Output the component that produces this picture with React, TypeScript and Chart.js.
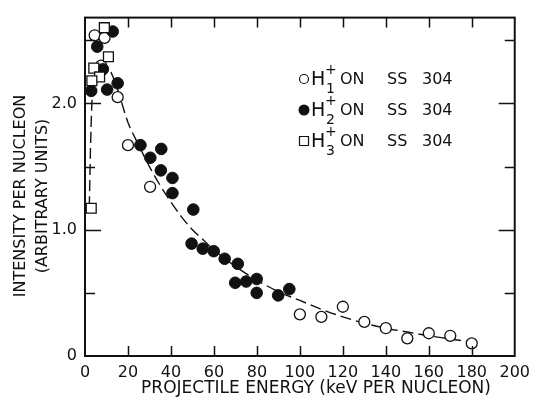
import React, { useEffect, useRef } from "react";
import { Chart, registerables } from "chart.js";

Chart.register(...registerables);

// H1+ on SS 304 (open circles)
const h1X = [4.5, 9.1, 7.5, 15.2, 20, 30.3, 100, 110, 120, 130, 140, 150, 160, 170, 180];
const h1Y = [2.54, 2.52, 2.30, 2.05, 1.67, 1.34, 0.33, 0.31, 0.39, 0.27, 0.22, 0.14, 0.18, 0.16, 0.10];

// H2+ on SS 304 (filled circles)
const h2X = [12.9, 5.7, 8.3, 15.2, 10.3, 2.9, 25.8, 30.4, 35.5, 35.3, 40.7, 40.7, 50.4, 49.6, 54.8, 59.9, 65, 71.1, 69.9, 75, 79.9, 79.9, 89.9, 95.1];
const h2Y = [2.57, 2.45, 2.27, 2.16, 2.11, 2.10, 1.67, 1.57, 1.64, 1.47, 1.41, 1.29, 1.16, 0.89, 0.85, 0.83, 0.77, 0.73, 0.58, 0.59, 0.61, 0.50, 0.48, 0.53];

// H3+ on SS 304 (open squares)
const h3X = [9.0, 10.9, 4.1, 6.8, 3.2, 2.9];
const h3Y = [2.60, 2.37, 2.28, 2.21, 2.18, 1.17];

// dashed fitted curve
const curveX = [2.0, 2.5, 3.2, 4.5, 6, 8, 10, 12, 15, 20, 25, 30, 35, 40, 45, 50, 55, 60, 70, 80, 90, 100, 110, 120, 130, 140, 150, 160, 170, 180];
const curveY = [1.18, 1.6, 2.0, 2.2, 2.29, 2.32, 2.3, 2.25, 2.12, 1.85, 1.67, 1.5, 1.35, 1.22, 1.10, 1.0, 0.92, 0.84, 0.71, 0.60, 0.51, 0.44, 0.37, 0.31, 0.26, 0.22, 0.19, 0.16, 0.135, 0.11];

const xTicks = [0, 20, 40, 60, 80, 100, 120, 140, 160, 180, 200];
const yLabelTicks = [0, 1, 2];
const yMinorTicks = [0.5, 1.5, 2.5];
const legendLabels = ["1", "2", "3"];
const legendText = ["ON", "SS", "304"];

const FONT = "'DejaVu Sans', sans-serif";
const INK = "#111";

const pts = (xs: number[], ys: number[]) => xs.map((x, i) => ({ x, y: ys[i] }));

const decorPlugin = {
  id: "decor",
  afterDraw(chart: any) {
    const ctx = chart.ctx as CanvasRenderingContext2D;
    const { left, right, top, bottom } = chart.chartArea;
    const xs = chart.scales.x;
    const ys = chart.scales.y;
    ctx.save();
    ctx.strokeStyle = INK;
    ctx.lineWidth = 2;
    ctx.strokeRect(left, top, right - left, bottom - top);
    ctx.lineWidth = 1.5;
    ctx.beginPath();
    xTicks.slice(1, -1).forEach((v) => {
      const px = Math.round(xs.getPixelForValue(v)) + 0.5;
      ctx.moveTo(px, bottom);
      ctx.lineTo(px, bottom - 10);
      ctx.moveTo(px, top);
      ctx.lineTo(px, top + 10);
    });
    yLabelTicks.slice(1).forEach((v) => {
      const py = Math.round(ys.getPixelForValue(v)) + 0.5;
      ctx.moveTo(left, py);
      ctx.lineTo(left + 16, py);
      ctx.moveTo(right, py);
      ctx.lineTo(right - 16, py);
    });
    yMinorTicks.forEach((v) => {
      const py = Math.round(ys.getPixelForValue(v)) + 0.5;
      ctx.moveTo(left, py);
      ctx.lineTo(left + 10, py);
      ctx.moveTo(right, py);
      ctx.lineTo(right - 10, py);
    });
    ctx.stroke();

    // axis titles
    ctx.fillStyle = INK;
    ctx.textAlign = "center";
    ctx.textBaseline = "middle";
    ctx.font = `17px ${FONT}`;
    ctx.fillText("PROJECTILE ENERGY (keV PER NUCLEON)", 316, 389);
    ctx.font = `16px ${FONT}`;
    ctx.save();
    ctx.translate(21, 196);
    ctx.rotate(-Math.PI / 2);
    ctx.fillText("INTENSITY PER NUCLEON", 0, 0);
    ctx.fillText("(ARBITRARY UNITS)", 0, 22);
    ctx.restore();

    // legend
    const rows = [79, 110, 141];
    rows.forEach((ry, i) => {
      ctx.lineWidth = 1.2;
      ctx.strokeStyle = INK;
      ctx.fillStyle = INK;
      ctx.beginPath();
      if (i === 0) {
        ctx.arc(304, ry, 4.5, 0, Math.PI * 2);
        ctx.fillStyle = "#fff";
        ctx.fill();
        ctx.stroke();
      } else if (i === 1) {
        ctx.arc(304, ry, 5.5, 0, Math.PI * 2);
        ctx.fill();
      } else {
        ctx.rect(299.5, ry - 4.5, 9, 9);
        ctx.fillStyle = "#fff";
        ctx.fill();
        ctx.stroke();
      }
      ctx.fillStyle = INK;
      ctx.textAlign = "left";
      ctx.textBaseline = "middle";
      ctx.font = `19px ${FONT}`;
      ctx.fillText("H", 311, ry + 1);
      ctx.font = `14px ${FONT}`;
      ctx.fillText("+", 325, ry - 9);
      ctx.fillText(legendLabels[i], 326, ry + 10);
      ctx.font = `16px ${FONT}`;
      ctx.fillText(legendText[0], 340, ry + 1);
      ctx.fillText(legendText[1], 387, ry + 1);
      ctx.fillText(legendText[2], 422, ry + 1);
    });
    ctx.restore();
  },
};

export default function App() {
  const ref = useRef<HTMLCanvasElement | null>(null);
  useEffect(() => {
    document.body.style.margin = "0";
    const canvas = ref.current!;
    const chart = new Chart(canvas, {
      type: "scatter",
      data: {
        datasets: [
          {
            label: "fit",
            type: "line",
            data: pts(curveX, curveY),
            borderColor: INK,
            borderWidth: 1.4,
            borderDash: [11, 5],
            pointRadius: 0,
            fill: false,
            cubicInterpolationMode: "monotone",
            order: 10,
          } as any,
          {
            label: "H1+ ON SS 304",
            data: pts(h1X, h1Y),
            pointStyle: "circle",
            pointRadius: 5.5,
            backgroundColor: "#fff",
            borderColor: INK,
            borderWidth: 1.3,
            order: 3,
          },
          {
            label: "H2+ ON SS 304",
            data: pts(h2X, h2Y),
            pointStyle: "circle",
            pointRadius: 5.8,
            backgroundColor: INK,
            borderColor: INK,
            borderWidth: 1,
            order: 2,
          },
          {
            label: "H3+ ON SS 304",
            data: pts(h3X, h3Y),
            pointStyle: "rect",
            pointRadius: 7,
            backgroundColor: "#fff",
            borderColor: INK,
            borderWidth: 1.3,
            order: 1,
          },
        ],
      },
      options: {
        animation: false,
        responsive: false,
        events: [],
        layout: { padding: { top: 13, right: 18, left: 0, bottom: 0 } },
        plugins: { legend: { display: false }, tooltip: { enabled: false } },
        scales: {
          x: {
            type: "linear",
            min: 0,
            max: 200,
            grid: { display: false, drawTicks: false },
            border: { display: false },
            afterBuildTicks: (axis: any) => {
              axis.ticks = xTicks.map((v) => ({ value: v }));
            },
            afterFit: (axis: any) => {
              axis.height = 51;
            },
            ticks: {
              padding: 7,
              color: INK,
              font: { family: FONT, size: 16 },
              maxRotation: 0,
              autoSkip: false,
              callback: (v: any) => String(v),
            },
          },
          y: {
            type: "linear",
            min: 0,
            max: 2.68,
            grid: { display: false, drawTicks: false },
            border: { display: false },
            afterBuildTicks: (axis: any) => {
              axis.ticks = yLabelTicks.map((v) => ({ value: v }));
            },
            afterFit: (axis: any) => {
              axis.width = 85;
            },
            ticks: {
              padding: 8,
              color: INK,
              font: { family: FONT, size: 16 },
              callback: (v: any) => (Number(v) === 0 ? "0" : Number(v).toFixed(1)),
            },
          },
        },
      },
      plugins: [decorPlugin],
    });
    return () => chart.destroy();
  }, []);
  return (
    <div style={{ width: 537, height: 407, background: "#fff" }}>
      <canvas ref={ref} width={537} height={407} />
    </div>
  );
}
